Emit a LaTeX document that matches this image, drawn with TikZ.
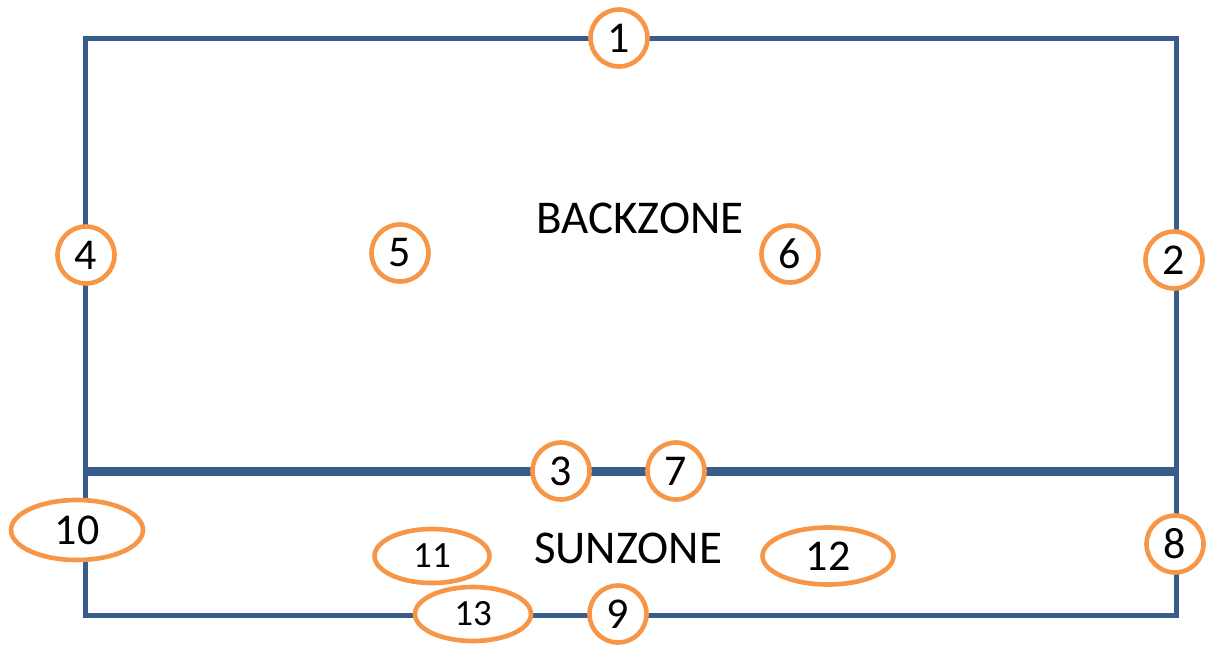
\documentclass[tikz,border=0pt]{standalone}
\usepackage{fontspec}
\setmainfont{Carlito}
\usetikzlibrary{shapes.geometric}
\definecolor{edgeblue}{RGB}{56,93,138}
\definecolor{markorange}{RGB}{247,150,70}

\begin{document}
\begin{tikzpicture}[
        x=0.5pt, y=-0.5pt,
        wall/.style = {draw=edgeblue, line width=2.5pt},
        net/.style  = {draw=edgeblue, line width=4.5pt},
        spot/.style = {circle, draw=markorange, line width=2.3pt, fill=white,
                       minimum size=28.5pt, inner sep=0pt,
                       font=\fontsize{22}{22}\selectfont},
        wide/.style = {ellipse, draw=markorange, line width=2.3pt, fill=white,
                       inner sep=0pt, font=\fontsize{22}{22}\selectfont},
        small/.style = {font=\fontsize{18.5}{18.5}\selectfont},
        zone/.style = {font=\fontsize{23.5}{23.5}\selectfont}
    ]
    \useasboundingbox (0,0) rectangle (1206,644);

    % --- Court outline and dividing line ---
    \coordinate (tl) at (85,38);
    \coordinate (br) at (1176,615);
    \coordinate (ml) at (85,471);
    \coordinate (mr) at (1176,471);
    \draw[wall] (tl) rectangle (br);
    \draw[net]  (ml) -- (mr);

    % --- Zone labels ---
    \node[zone] (back) at (640,218) {BACKZONE};
    \node[zone] (sun)  at (628,548) {SUNZONE};

    % --- Round markers ---
    \node[spot] (c1) at (619,38)   {1};
    \node[spot] (c2) at (1174,260) {2};
    \node[spot] (c3) at (561,471)  {3};
    \node[spot] (c4) at (86,255)   {4};
    \node[spot] (c5) at (400,253)  {5};
    \node[spot] (c6) at (790,254)  {6};
    \node[spot] (c7) at (676,471)  {7};
    \node[spot] (c8) at (1175,544) {8};
    \node[spot] (c9) at (618,614)  {9};

    % --- Oval markers ---
    \node[wide, minimum width=66pt, minimum height=30pt]   (c10) at (77,530)  {10};
    \node[wide, small, minimum width=57.5pt, minimum height=27pt] (c11) at (432,556) {11};
    \node[wide, minimum width=65.5pt, minimum height=28.5pt] (c12) at (828,556) {12};
    \node[wide, small, minimum width=58pt, minimum height=27pt]   (c13) at (473,614) {13};

\end{tikzpicture}
\end{document}
